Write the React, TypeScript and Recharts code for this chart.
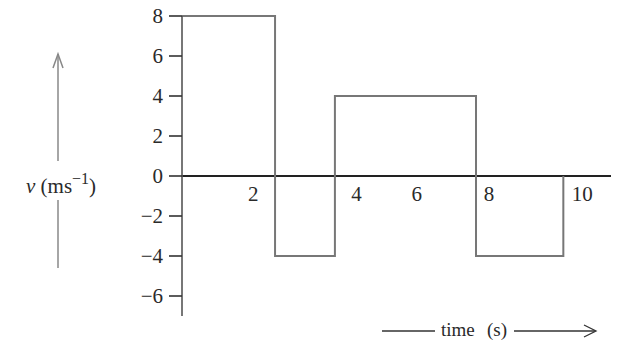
import { Label, Line, LineChart, ReferenceDot, ReferenceLine, XAxis, YAxis } from "recharts";

// step velocity profile (stepAfter)
const times = [0, 2.44, 4.01, 7.71, 10];
const velocities = [8, -4, 4, -4, 0];
const yTicks = [-6, -4, -2, 0, 2, 4, 6, 8];
const xTickValues = [2, 4, 6, 8, 10];
const xTickLabels = ["2", "4", "6", "8", "10"];

const data = times.map((t, i) => ({ t, v: velocities[i] }));

const FONT = "'Liberation Serif', 'DejaVu Serif', serif";
const INK = "#2a2a2a";
// labels in the figure sit beside the lines, not centred on them
const nudge: Record<string, number> = { "2": -5, "4": 22, "6": 6, "8": 2, "10": 19 };

function VelocityLabel(props: any) {
  const { x, y, height } = props.viewBox;
  const cx = x + 58;
  const mid = y + height / 2;
  return (
    <g stroke="#888" strokeWidth={1.5} fill="none">
      <line x1={cx} y1={mid - 5} x2={cx} y2={y + 38} />
      <polyline points={`${cx - 5},${y + 52} ${cx},${y + 38} ${cx + 5},${y + 52}`} />
      <line x1={cx} y1={mid + 34} x2={cx} y2={mid + 102} />
      <text x={x + 26} y={mid + 27} stroke="none" fill={INK} fontFamily={FONT} fontSize={21}>
        <tspan fontStyle="italic">v</tspan>
        <tspan> (ms</tspan>
        <tspan dy={-9} fontSize={16}>−1</tspan>
        <tspan dy={9}>)</tspan>
      </text>
    </g>
  );
}

function TimeLabel(props: any) {
  const { y } = props.viewBox;
  const ly = y + 15;
  return (
    <g stroke="#333" strokeWidth={1.3} fill="none">
      <line x1={382} y1={ly} x2={435} y2={ly} />
      <text x={441} y={ly + 5} stroke="none" fill={INK} fontFamily={FONT} fontSize={19}>time</text>
      <text x={487} y={ly + 5} stroke="none" fill={INK} fontFamily={FONT} fontSize={19}>(s)</text>
      <line x1={514} y1={ly} x2={595} y2={ly} />
      <polyline points={`${584},${ly - 6} ${596},${ly} ${584},${ly + 6}`} />
    </g>
  );
}

export default function App() {
  return (
    <div style={{ position: "absolute", left: 0, top: 0, background: "#fff" }}>
      <LineChart width={619} height={345} data={data} margin={{ top: 16, right: 8, left: 0, bottom: 0 }}>
        <XAxis
          type="number"
          dataKey="t"
          domain={[0, 11.25]}
          height={29}
          axisLine={false}
          tickLine={false}
          tick={false}
        >
          <Label content={<TimeLabel />} />
        </XAxis>
        <YAxis
          type="number"
          domain={[-7, 8]}
          ticks={yTicks}
          width={182}
          interval={0}
          tickSize={13}
          tickMargin={6}
          axisLine={{ stroke: "#555", strokeWidth: 1.6 }}
          tickLine={{ stroke: "#333", strokeWidth: 1.6 }}
          tick={{ fill: INK, fontSize: 21, fontFamily: FONT }}
          tickFormatter={(v: number) => (v < 0 ? `−${-v}` : `${v}`)}
        >
          <Label content={<VelocityLabel />} />
        </YAxis>
        <ReferenceLine y={0} stroke="#222" strokeWidth={1.8} />
        <Line
          type="stepAfter"
          dataKey="v"
          stroke="#777"
          strokeWidth={2}
          dot={false}
          isAnimationActive={false}
        />
        {xTickValues.map((t, i) => (
          <ReferenceDot
            key={t}
            x={t}
            y={0}
            r={0}
            stroke="none"
            fill="none"
            label={{
              value: xTickLabels[i],
              position: "bottom",
              offset: 10,
              dx: nudge[xTickLabels[i]],
              fill: INK,
              fontSize: 21,
              fontFamily: FONT,
            }}
          />
        ))}
      </LineChart>
    </div>
  );
}
